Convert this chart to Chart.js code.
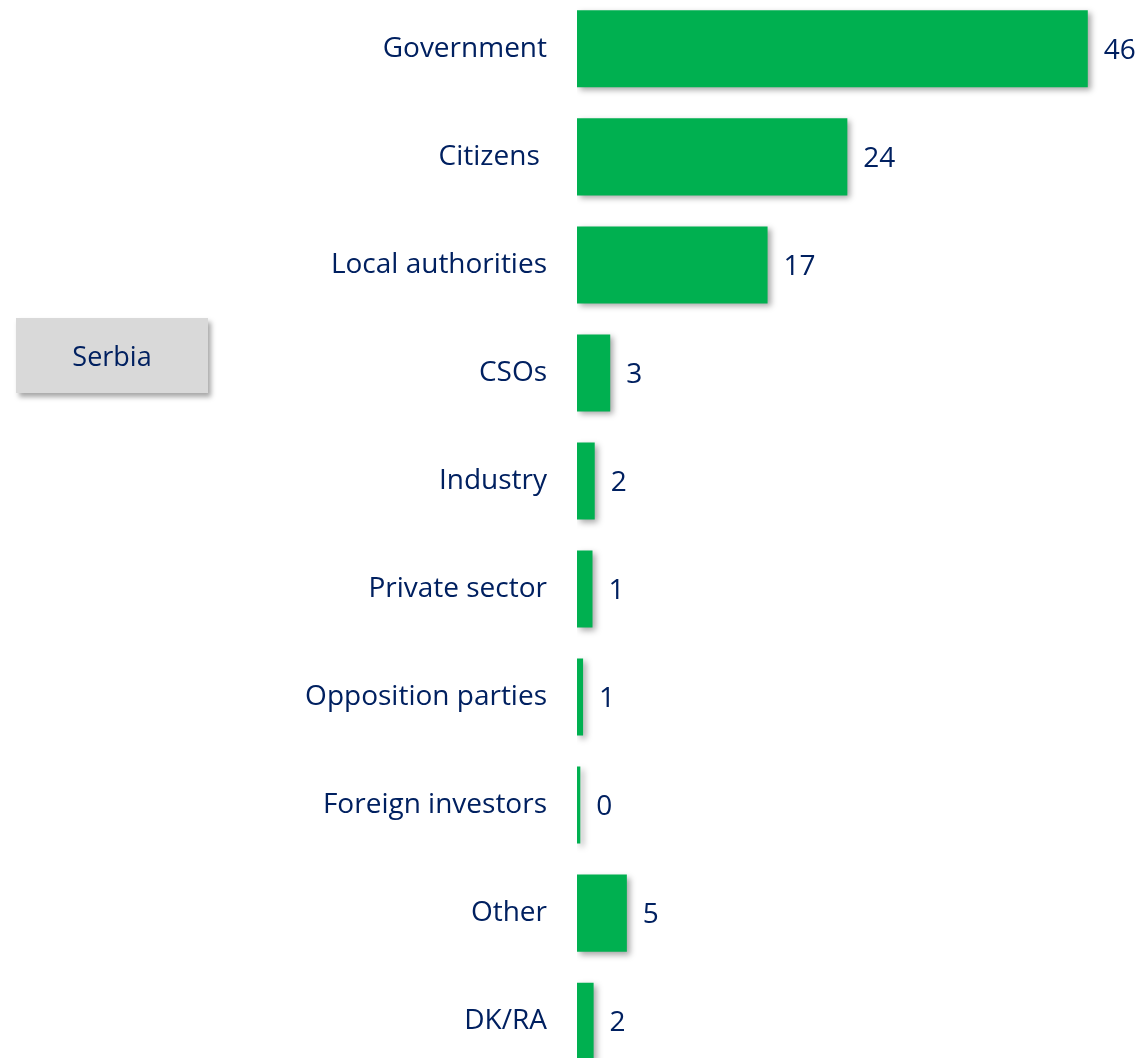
<!DOCTYPE html>
<html>
<head>
<meta charset="utf-8">
<script src="https://cdn.jsdelivr.net/npm/chart.js@4"></script>
<style>
  html, body { margin: 0; padding: 0; background: #fff; overflow: hidden; }
  #wrap { position: relative; width: 1139px; height: 1058px; overflow: hidden; }
  #stage { position: absolute; left: 0; top: -52px; }
  #country {
    position: absolute; left: 16px; top: 318px; width: 192px; height: 75px;
    background: #d9d9d9; color: #002060;
    font: 27px "Open Sans", sans-serif;
    display: flex; align-items: center; justify-content: center;
    box-shadow: 3px 4px 5px rgba(0,0,0,0.35);
  }
</style>
</head>
<body>
<div id="wrap">
  <canvas id="stage" width="1139" height="1174"></canvas>
  <div id="country">Serbia</div>
</div>
<script>
// 項目
const categories = ['Government', 'Citizens ', 'Local authorities', 'CSOs', 'Industry',
  'Private sector', 'Opposition parties', 'Foreign investors', 'Other', 'DK/RA'];
// 値 (%)
const values = [46.1, 24.4, 17.2, 3.0, 1.6, 1.4, 0.55, 0.3, 4.5, 1.5];

const navy = '#002060';
const green = '#00b050';
const fontFamily = '"Open Sans", sans-serif';

// 影
const shadowPlugin = {
  id: 'barShadow',
  beforeDatasetsDraw(chart) {
    const ctx = chart.ctx;
    ctx.save();
    ctx.shadowColor = 'rgba(0,0,0,0.35)';
    ctx.shadowBlur = 6;
    ctx.shadowOffsetX = 3;
    ctx.shadowOffsetY = 3;
  },
  afterDatasetsDraw(chart) {
    chart.ctx.restore();
  }
};

// 数値ラベル
const valueLabels = {
  id: 'valueLabels',
  afterDraw(chart) {
    const ctx = chart.ctx;
    const meta = chart.getDatasetMeta(0);
    ctx.save();
    ctx.fillStyle = navy;
    ctx.font = '28px ' + fontFamily;
    ctx.textAlign = 'left';
    ctx.textBaseline = 'middle';
    meta.data.forEach((bar, i) => {
      ctx.fillText(String(Math.round(values[i])), bar.x + 16, bar.y + 2);
    });
    ctx.restore();
  }
};

new Chart(document.getElementById('stage'), {
  type: 'bar',
  data: {
    labels: categories,
    datasets: [{
      data: values,
      backgroundColor: green,
      borderWidth: 0,
      barPercentage: 0.713,
      categoryPercentage: 1
    }]
  },
  options: {
    indexAxis: 'y',
    responsive: false,
    animation: false,
    layout: { padding: { left: 0, right: 8, top: 0, bottom: 0 } },
    plugins: { legend: { display: false }, tooltip: { enabled: false } },
    scales: {
      x: {
        display: false,
        min: 0,
        max: 50
      },
      y: {
        grid: { display: false, drawTicks: false },
        border: { display: false },
        ticks: {
          color: navy,
          padding: 30,
          font: { family: fontFamily, size: 28 }
        },
        afterFit(scale) { scale.width = 577; }
      }
    }
  },
  plugins: [shadowPlugin, valueLabels]
});
</script>
</body>
</html>
